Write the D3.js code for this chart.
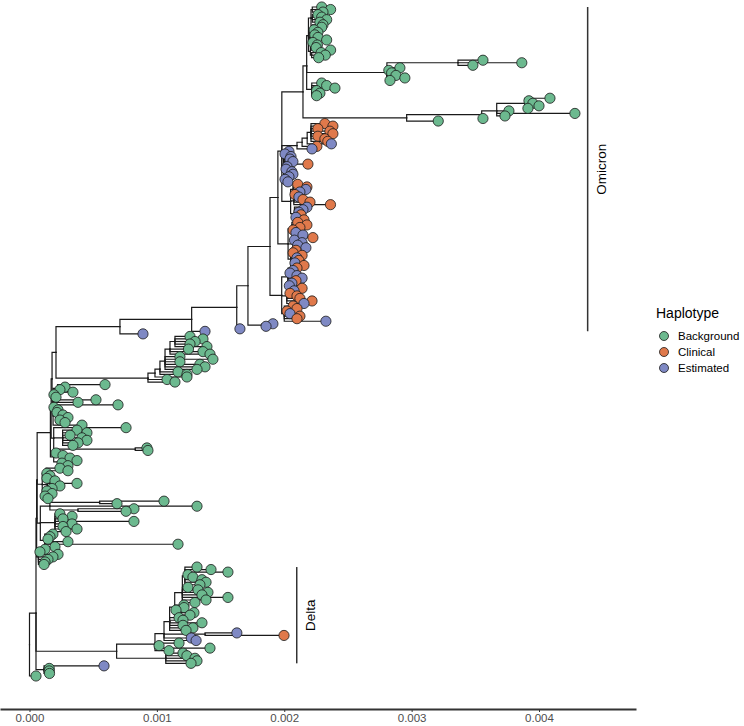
<!DOCTYPE html>
<html><head><meta charset="utf-8">
<script src="https://cdn.jsdelivr.net/npm/d3@7"></script>
<style>body{margin:0;background:#fff}</style>
</head><body><svg id="chart" width="744" height="726"></svg>
<script>
// ---------------- DATA ----------------
const haplotypes = ["Background", "Clinical", "Estimated"];
const tipCodes = ["B", "C", "E"];
const haplotypeColors = ["#6cb98f", "#e0794b", "#7f89c4"];
const xTicks = [0, 0.001, 0.002, 0.003, 0.004];
const branchUnit = 1e-5;            // branch lengths below are in 1e-5 substitutions/site
const cladeNames = ["Omicron", "Delta"];

// Omicron sub-clades (Newick pieces)
const omicronR1 = "(((B:7.4,B:14.4,B:8.4):1,(B:4.5,B:7.4,B:11.3,B:6):1,(B:8.4,B:7.4):1):2,((B:2.5,B:5.4,B:3):1,(B:5.5,B:12.3):1,B:2.5):1,((B:5,B:4,B:15.4):0.5,(B:7.5,B:10.7,B:5.5):1):1.5):1.4";
const omicronR23 = "((B:19.6,B:50.1,B:11.7):55.8,B:10.2,B:1.5,B:3.7,B:7.1,B:14.1,B:2.4):63";
const omicronR4 = "(B:7.8,B:11.7,B:18.2,B:3.8,B:6.4,B:3.8):4";
const omicronR5 = "((((B:19.6,B:3.1,B:6.2,B:11,B:2.3):22.2,B:9.6,B:61.4,B:6.5):11.8,B:1):58.9,B:24.8):81.4";
const omicronR6a = "((((C:10.9,C:17.2,C:5.4,C:14.8,C:17.2,C:5.4,C:10.9,C:13.2):3,E:19):4,C:11.6):4,E:11.8):11.9";
const omicronR6b = "((E:3.7,E:0.6,E:5.3):0.5,(E:4.5,E:6.8,C:18.6):0.5,(E:2.2,E:1.4,E:6):0.5,(E:6.8,E:3.7,E:0.6,E:2.9):0.5):1.4";
const omicronR6c = "((C:3.6,C:10.8,E:10,E:5.3,C:1.4):2,(E:4,C:7.2,C:12.7,C:28.8):2.5,(E:9.8,E:6.7,E:3.5,C:5.1,E:1.2,C:7.5):3):6.9";
const omicronR6d = "((C:4.6,C:11.8,C:6.3,C:1,E:3.2,E:8.7):3,(C:15.5,E:1,E:7,E:3.6,E:10,C:2.2):4,(C:2,C:9,E:5,C:6.5,E:3.4,C:10.5):2):8";
const omicronR6e = "((C:7,E:4,E:1.5,E:7,E:11,C:6.2,E:3,E:1):5,(C:12,E:5.7,C:2.5,C:8,C:10.3,C:19.8,E:13.5):4,(C:7,C:10,C:2.2,E:4.5,C:12.3,C:10,E:32.7):2):9.2";

// Background clades
const greenClade = "((((((B:11.8,B:22,B:15.8,B:11.8,B:25.1):3.9,B:14.5,B:25.9,B:31.4):3.9,B:11.7,B:37.6,B:11.7,B:27.4,B:31.4,B:25.1):4,B:14.2,B:21.2):3.9,B:25.1):5.5,B:15,B:21.2):72.2";
const leftL1 = "((B:37.3,B:5.9,B:1.9,B:12.1):3.5,B:0.7,(B:0.8,B:32.2,B:18.1,B:49.5):1.5,B:0.7,(B:1.4,B:0.6,B:5.3,B:9.2,B:2.9,B:6.9):2.5,B:22.7):0.8";
const leftL2 = "(B:56.8,(B:11.3,B:19.1,B:5.8,B:15.2,B:19.1,B:12.1,B:8.1):7,(B:9.2,B:10):64):2";
const leftL3 = "(B:1.8,B:7.3,(B:7.8,B:13.3,B:1.5,B:6.2):5):2.6";
const leftL4 = "((B:10.9,B:17.2,B:0.7,B:3.1,B:0.7):3,(B:6,B:23.3,B:9.9,B:3.7):4,(B:1.7,B:5.7,B:0.2,B:2.5):2):4";
const leftL5 = "(((B:50.6,B:13.7):39,B:115.5,(B:44,B:37.8):22):7.5,(B:3.9,B:13.4,B:6.3,B:62,B:13.4,B:6.3,B:17.3,B:8.7):11.5,(B:6.4,B:4.1,B:2.5,B:18.2,B:104.6,B:8):3.5):2.5";
const leftL6 = "(B:5.2,B:1.2,B:15.4,B:11.4,B:7.5,B:5.2,B:4.4):1.4";
const bottomSmall = "(E:47.1,B:4.1,B:4.1,B:4.3):6.3";

// Delta sub-clades
const deltaG1 = "(B:9.5,B:20.5,B:33.8,B:2.4,B:6.3,B:13.4,B:16.6,B:11.8)";
const deltaG2tips = "B:4.4,B:12.3,B:20.1,B:15.4,B:35.8,B:18.6,B:9.9";
const deltaG3tips = "B:7.3,B:7.3,B:1,B:15.1,B:12";
const deltaUp3tips = "B:7.4,B:10.5,B:25.4,B:10.5,B:18.3,B:12.9";
const deltaUp2tips = "(E:25,C:62):32.2,E:21.4,E:25.2";
const deltaUptips = "B:18.9,B:3.2,B:43.2,B:11";
const deltaLow = "(B:13.5,B:16.6,B:22.9,B:24.5,B:19.8):38.6";

// ---------------- ASSEMBLE TREE ----------------
const O2 = `(${omicronR1},${omicronR23},${omicronR4}):2.9`;
const O1 = `(${O2},${omicronR5}):16.6`;
const OMB = `(${O1},${omicronR6a},${omicronR6b},${omicronR6c}):3.1`;
const OMB2 = `(${OMB},${omicronR6d}):6.2`;
const OMA = `(${OMB2},${omicronR6e}):17.3`;
const B3 = `(${OMA},(E:8.6,E:3.2):11):8.8`;
const B2 = `(${B3},E:2.5):35.4`;
const B1 = `(${B2},E:10.5)Omicron:56.3`;
const N120 = `(${B1},E:18.1):50.2`;
const node56 = `(${N120},${greenClade}):3.1`;
const node52a = `(${node56},${leftL1}):0.7`;
const node52b = `(${node52a},${leftL2}):0.6`;
const node52c = `(${node52b},${leftL3}):10.4`;
const N3 = `(${node52c},${leftL4},${leftL5}):0.4`;
const N2 = `(${N3},${leftL6}):0.5`;
const Dg2 = `(${deltaG1}:2,${deltaG2tips})`;
const Dg3 = `(${Dg2}:6,${deltaG3tips})`;
const Dup3 = `(${Dg3}:4,${deltaUp3tips})`;
const Dup2 = `(${Dup3}:4.4,${deltaUp2tips})`;
const Dup = `(${Dup2}:7.1,${deltaUptips})`;
const DeltaNode = `(${Dup}:30.1,${deltaLow})Delta:63.3`;
const N1 = `(${N2},${DeltaNode},${bottomSmall}):5.1`;
const fullNewick = `(${N1},B:5.1);`;

function parseNewick(str) {
  const s = str.replace(/\s+/g, "");
  let i = 0;
  function node() {
    const n = { children: [] };
    if (s[i] === "(") {
      i++;
      n.children.push(node());
      while (s[i] === ",") { i++; n.children.push(node()); }
      i++;
    }
    let label = "";
    while (i < s.length && !",():;".includes(s[i])) label += s[i++];
    n.name = label;
    if (s[i] === ":") {
      i++;
      let num = "";
      while (i < s.length && !",();".includes(s[i])) num += s[i++];
      n.length = +num;
    } else n.length = 0;
    return n;
  }
  return node();
}

// ---------------- DRAW ----------------
const font = "'Liberation Sans', Arial, Helvetica, sans-serif";
const svg = d3.select("#chart");
const x = d3.scaleLinear().domain([0, 0.004]).range([29.5, 539]);
const color = d3.scaleOrdinal().domain(tipCodes).range(haplotypeColors);
const pointR = 5.1;

const root = d3.hierarchy(parseNewick(fullNewick), d => (d.children && d.children.length ? d.children : null));
root.eachBefore(d => { d.dist = (d.parent ? d.parent.dist : 0) + (d.parent ? d.data.length * branchUnit : 0); });
const leaves = root.leaves();
leaves.forEach((d, i) => { d.yi = i; });
root.eachAfter(d => { if (d.children) d.yi = d3.mean(d.children, c => c.yi); });
const y = d3.scaleLinear().domain([0, leaves.length - 1]).range([7, 676]);

svg.append("g")
  .selectAll("path")
  .data(root.descendants().filter(d => d.parent))
  .join("path")
  .attr("d", d => `M${x(d.parent.dist)},${y(d.parent.yi)}V${y(d.yi)}H${x(d.dist)}`)
  .attr("fill", "none")
  .attr("stroke", "#1a1a1a")
  .attr("stroke-width", 1.2)
  .attr("stroke-linecap", "square");

svg.append("g")
  .selectAll("circle")
  .data(leaves)
  .join("circle")
  .attr("cx", d => x(d.dist))
  .attr("cy", d => y(d.yi))
  .attr("r", pointR)
  .attr("fill", d => color(d.data.name))
  .attr("stroke", "#1a1a1a")
  .attr("stroke-width", 0.8);

// clade labels
const cladeOffset = 0.0001;
cladeNames.forEach(name => {
  const node = root.descendants().find(d => d.data.name === name);
  const lv = node.leaves();
  const y0 = y(d3.min(lv, d => d.yi)), y1 = y(d3.max(lv, d => d.yi));
  const bx = x(d3.max(lv, d => d.dist) + cladeOffset);
  svg.append("line").attr("x1", bx).attr("x2", bx).attr("y1", y0).attr("y2", y1)
    .attr("stroke", "#333").attr("stroke-width", 1.5);
  svg.append("text")
    .attr("transform", `translate(${bx + 14},${(y0 + y1) / 2}) rotate(-90)`)
    .attr("text-anchor", "middle").attr("dominant-baseline", "central")
    .attr("font-family", font).attr("font-size", 13.5).attr("fill", "#000")
    .text(name);
});

// axis
const xAxisScale = d3.scaleLinear().domain([x.invert(0), x.invert(636)]).range([0, 636]);
const axisG = svg.append("g").attr("transform", "translate(0,709)")
  .call(d3.axisBottom(xAxisScale).tickValues(xTicks).tickFormat(d3.format(".3f"))
    .tickSizeOuter(0).tickSizeInner(3).tickPadding(2));
axisG.select(".domain").attr("stroke", "#333").attr("stroke-width", 1.8);
axisG.selectAll(".tick line").attr("stroke", "#333");
axisG.selectAll(".tick text").attr("fill", "#4d4d4d").attr("font-size", 11.5).attr("font-family", font);

// legend
const legend = svg.append("g").attr("transform", "translate(656,0)");
legend.append("text").attr("x", 0).attr("y", 318).attr("font-family", font)
  .attr("font-size", 14).attr("fill", "#000").text("Haplotype");
const items = legend.selectAll("g.item").data(haplotypes).join("g")
  .attr("class", "item")
  .attr("transform", (d, i) => `translate(0,${336 + i * 16})`);
items.append("circle").attr("cx", 8).attr("cy", 0).attr("r", pointR - 0.6)
  .attr("fill", (d, i) => haplotypeColors[i]).attr("stroke", "#1a1a1a").attr("stroke-width", 0.8);
items.append("text").attr("x", 22).attr("y", 0).attr("dominant-baseline", "central")
  .attr("font-family", font).attr("font-size", 11.5).attr("fill", "#000").text(d => d);
</script>
</body></html>
